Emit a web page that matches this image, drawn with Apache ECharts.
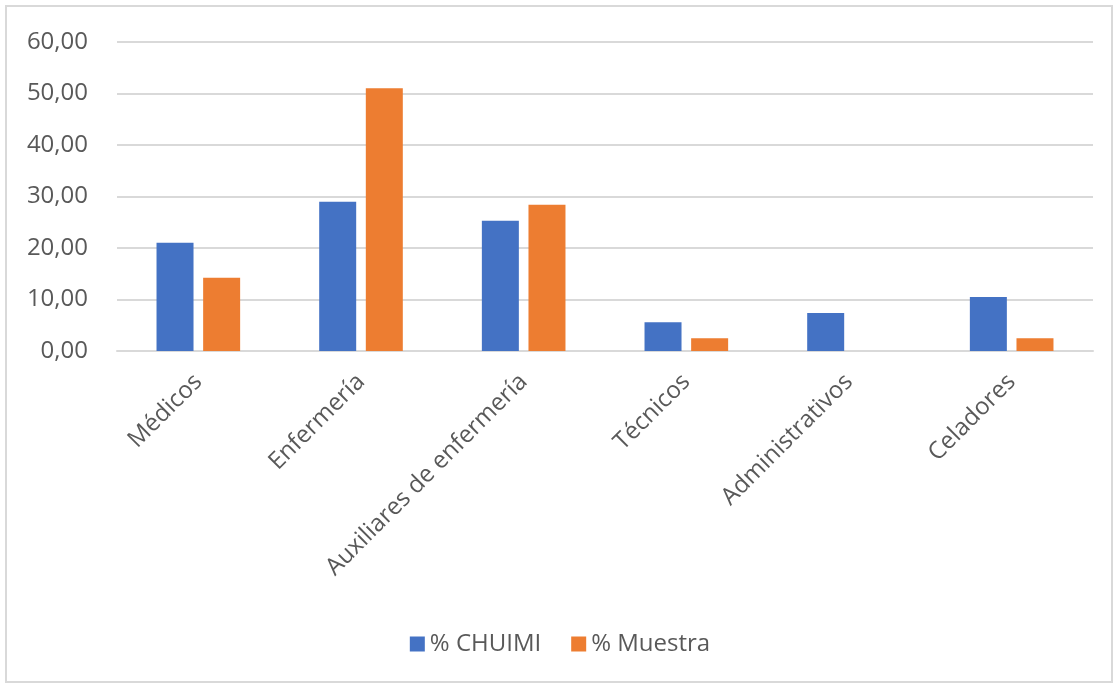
<!DOCTYPE html>
<html>
<head>
<meta charset="utf-8">
<script src="https://cdn.jsdelivr.net/npm/echarts@6/dist/echarts.min.js"></script>
<style>
  html, body { margin: 0; padding: 0; background: #fff; }
  #frame {
    position: absolute; left: 5px; top: 5px; width: 1108px; height: 678px;
    border: 2px solid #d9d9d9; box-sizing: border-box;
  }
  #chart { position: absolute; left: 0; top: 0; width: 1120px; height: 689px; }
</style>
</head>
<body>
<div id="frame"></div>
<div id="chart"></div>
<script>
const categories = ['Médicos', 'Enfermería', 'Auxiliares de enfermería', 'Técnicos', 'Administrativos', 'Celadores'];
const chuimi = [21.0, 29.0, 25.3, 5.6, 7.4, 10.5];
const muestra = [14.2, 51.0, 28.4, 2.5, 0, 2.5];
const seriesNames = ['% CHUIMI', '% Muestra'];

let chartDom = document.getElementById('chart');
let myChart = echarts.init(chartDom);
const font = '"Open Sans", Lato, sans-serif';
let option = {
	animation: false,
	textStyle: { fontFamily: font },
	grid: { left: 117, right: 27, top: 42, bottom: 338 },
	legend: {
		data: seriesNames,
		bottom: 28,
		left: 'center',
		itemWidth: 15,
		itemHeight: 15,
		itemGap: 30,
		icon: 'rect',
		textStyle: { fontSize: 24, color: '#595959', fontFamily: font }
	},
	xAxis: {
		type: 'category',
		data: categories,
		axisLine: { lineStyle: { color: '#d9d9d9', width: 2 } },
		axisTick: { show: false },
		axisLabel: { rotate: 45, fontSize: 24, color: '#595959', margin: 27, interval: 0, fontFamily: font }
	},
	yAxis: {
		type: 'value',
		min: 0,
		max: 60,
		interval: 10,
		axisLine: { show: false },
		axisTick: { show: false },
		splitLine: { lineStyle: { color: '#d9d9d9', width: 2 } },
		axisLabel: {
			fontSize: 24, color: '#595959', margin: 29, fontFamily: font,
			formatter: v => v.toFixed(2).replace('.', ',')
		}
	},
	series: [
		{
			name: seriesNames[0],
			type: 'bar',
			data: chuimi,
			barWidth: 37,
			barGap: '26%',
			itemStyle: { color: '#4472c4' }
		},
		{
			name: seriesNames[1],
			type: 'bar',
			data: muestra,
			barWidth: 37,
			barGap: '26%',
			itemStyle: { color: '#ed7d31' }
		}
	]
};
option && myChart.setOption(option);
</script>
</body>
</html>
